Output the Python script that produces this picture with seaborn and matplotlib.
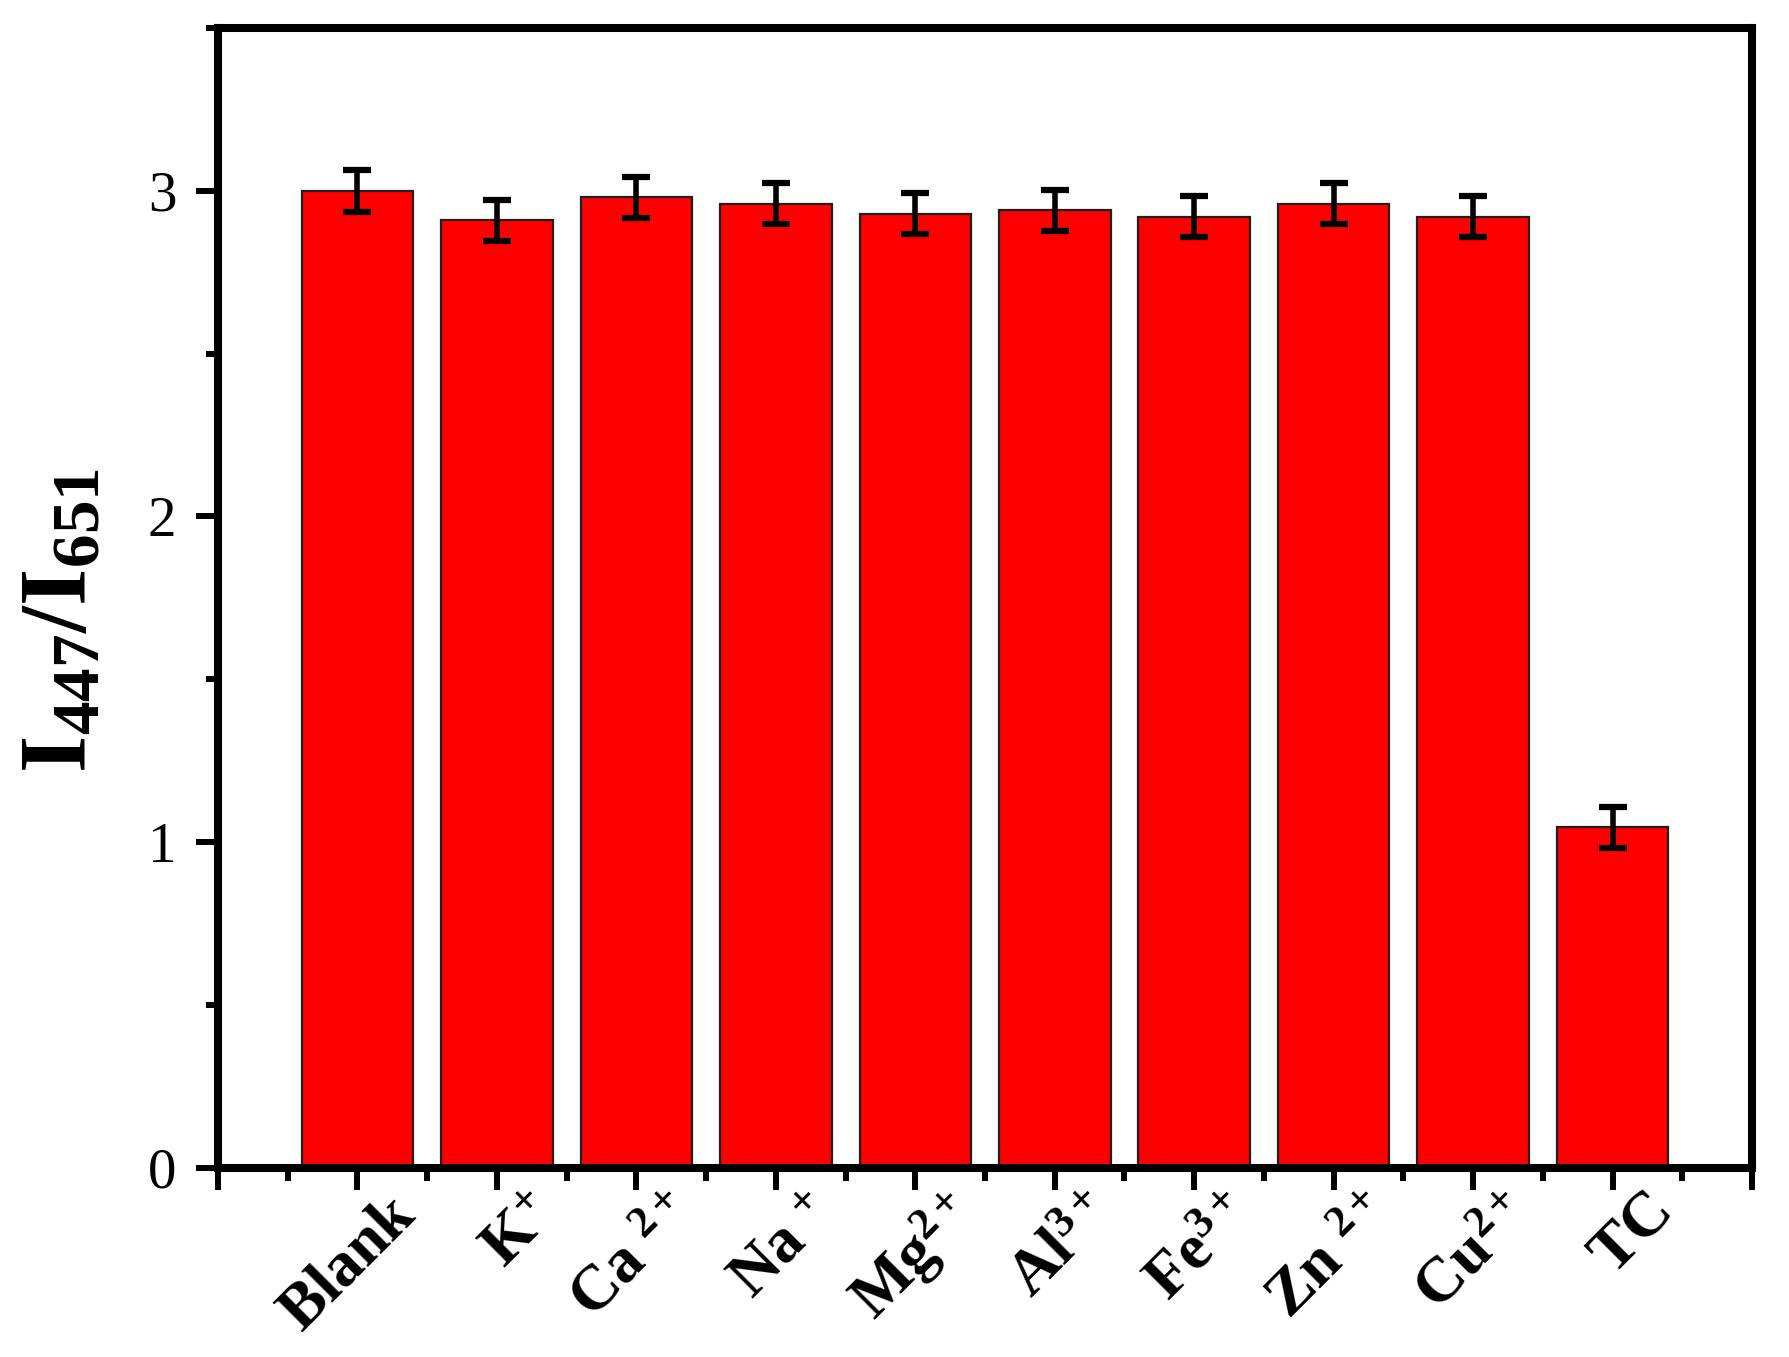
"""Selectivity bar chart: I447/I651 ratio for interfering ions vs TC."""

import matplotlib
matplotlib.use("Agg")
import matplotlib.pyplot as plt
import numpy as np
import pandas as pd
import seaborn as sns
from matplotlib.ticker import FixedLocator, MultipleLocator
from matplotlib.transforms import ScaledTranslation

# data
species = ["Blank", "K+", "Ca2+", "Na+", "Mg2+", "Al3+", "Fe3+", "Zn2+", "Cu2+", "TC"]
tick_labels = [
    r"$\mathbf{Blank}$", r"$\mathbf{K^{+}}$", r"$\mathbf{Ca\ ^{2+}}$", r"$\mathbf{Na\ ^{+}}$",
    r"$\mathbf{Mg^{2+}}$", r"$\mathbf{Al^{3+}}$", r"$\mathbf{Fe^{3+}}$", r"$\mathbf{Zn\ ^{2+}}$",
    r"$\mathbf{Cu^{2+}}$", r"$\mathbf{TC}$",
]
ratio = [3.00, 2.91, 2.98, 2.96, 2.93, 2.94, 2.92, 2.96, 2.92, 1.045]
ratio_err = [0.065, 0.063, 0.063, 0.063, 0.063, 0.063, 0.063, 0.063, 0.063, 0.063]

sns.set_style("white")
plt.rcParams["font.family"] = ["Liberation Serif", "DejaVu Serif"]
plt.rcParams["mathtext.fontset"] = "custom"
plt.rcParams["mathtext.rm"] = "Liberation Serif"
plt.rcParams["mathtext.bf"] = "Liberation Serif:bold"
plt.rcParams["mathtext.it"] = "Liberation Serif:italic"
for key in ["text.color", "axes.labelcolor", "xtick.color", "ytick.color"]:
    plt.rcParams[key] = "black"

df = pd.DataFrame({"species": species, "ratio": ratio})

fig = plt.figure(figsize=(17.9, 13.57), dpi=100)
ax = fig.add_axes([0.1218, 0.1394, 0.857, 0.8400])

sns.barplot(data=df, x="species", y="ratio", color="#ff0000", saturation=1,
            width=0.8, edgecolor="#202020", linewidth=1.6, errorbar=None, ax=ax)
ax.errorbar(np.arange(len(species)), ratio, yerr=ratio_err, fmt="none",
            ecolor="black", elinewidth=4, capsize=10, capthick=4.5, zorder=5)

ax.set_xlim(-1, 10)
ax.set_ylim(0, 3.5)

# x ticks: majors at every slot incl. the frame ends, labels only on bars
ax.xaxis.set_major_locator(FixedLocator(np.arange(-1, 11)))
ax.set_xticklabels([""] + tick_labels + [""], rotation=45, ha="right",
                   va="center", rotation_mode="anchor", fontsize=46)
ax.xaxis.set_minor_locator(FixedLocator(np.arange(-0.5, 10, 1.0)))
ax.yaxis.set_major_locator(MultipleLocator(1))
ax.yaxis.set_minor_locator(MultipleLocator(0.5))
ax.set_yticks([0, 1, 2, 3])
ax.set_yticklabels(["0", "1", "2", "3"], fontsize=41)

ax.tick_params(axis="both", which="major", direction="out", length=16, width=4.3,
               color="black", bottom=True, left=True, top=False, right=False)
ax.tick_params(axis="both", which="minor", direction="out", length=9, width=4.3,
               color="black", bottom=True, left=True, top=False, right=False)
ax.tick_params(axis="x", which="major", pad=11)
ax.tick_params(axis="y", which="major", pad=14)

shift = ScaledTranslation(0.5, 0, fig.dpi_scale_trans)
for lbl in ax.get_xticklabels():
    lbl.set_transform(lbl.get_transform() + shift)

for side in ["left", "right", "top", "bottom"]:
    ax.spines[side].set_visible(True)
    ax.spines[side].set_linewidth(5.8)
    ax.spines[side].set_color("black")

ax.set_xlabel("")
ax.set_ylabel(r"$\mathbf{I_{447}/I_{651}}$", fontsize=69)
ax.yaxis.set_label_coords(-0.073, 0.48)

fig.savefig("out.png", dpi=100, facecolor="white")
